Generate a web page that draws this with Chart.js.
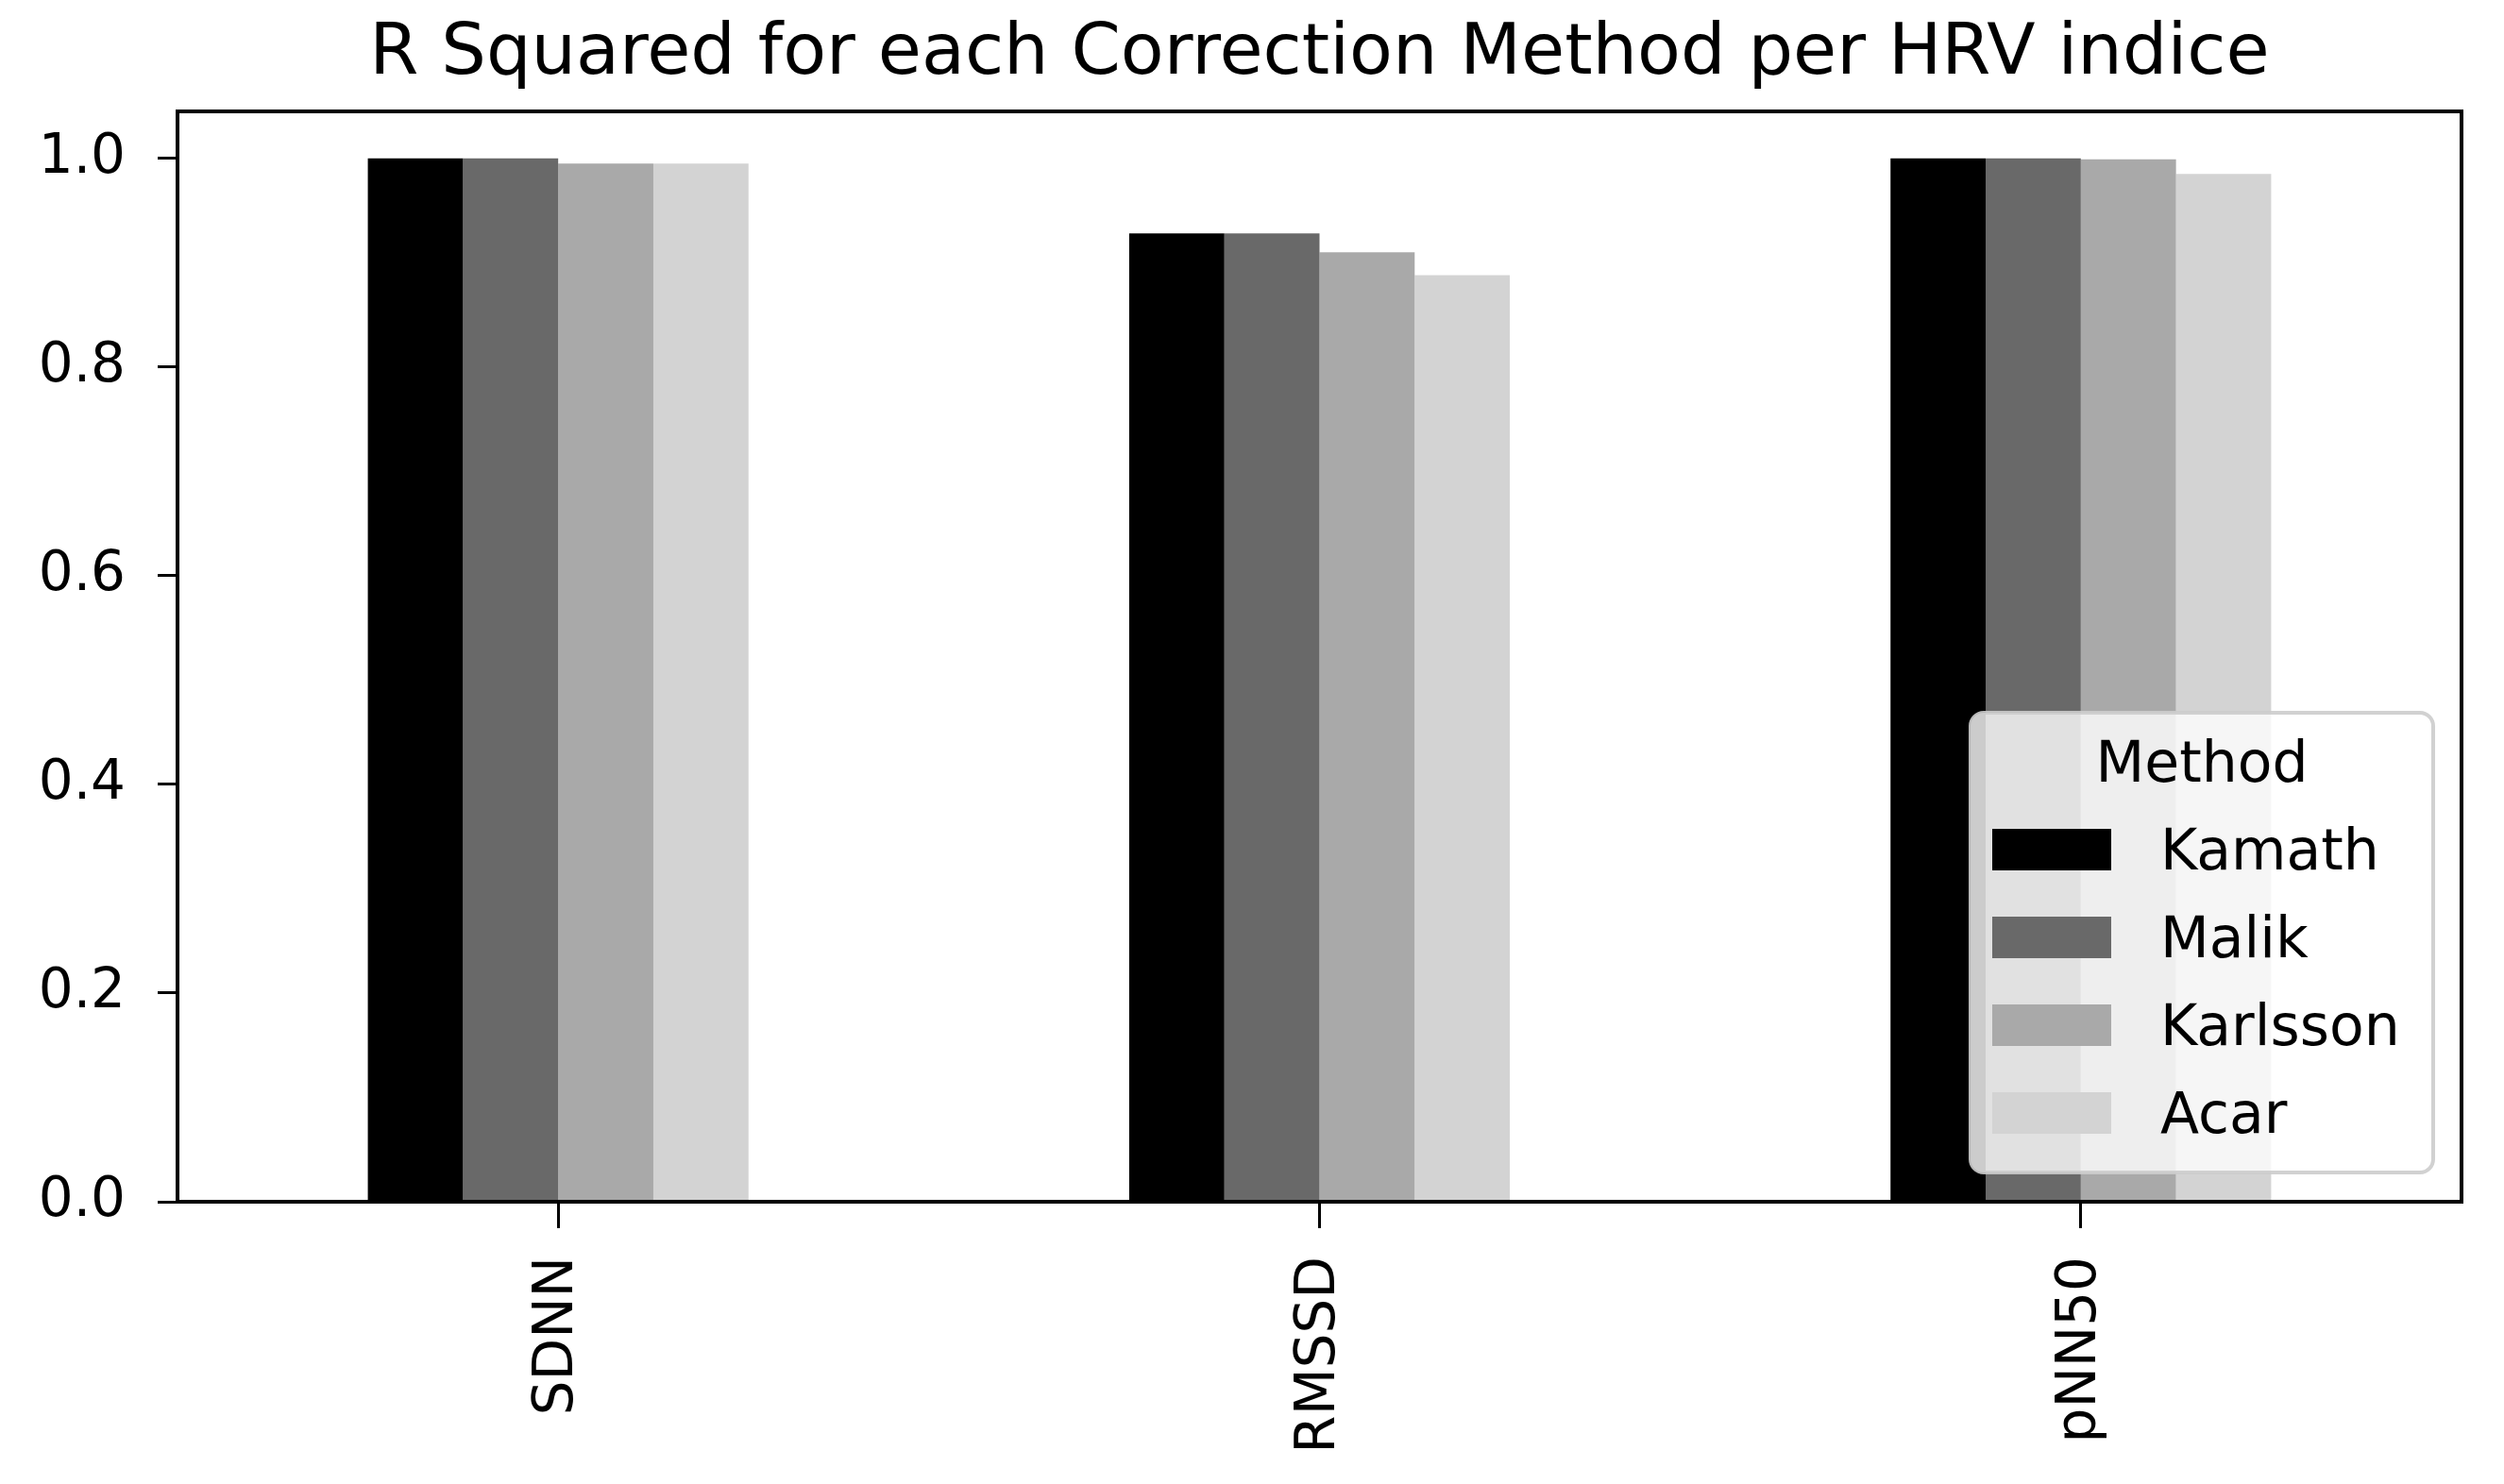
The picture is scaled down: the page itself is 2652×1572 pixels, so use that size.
<!DOCTYPE html>
<html>
<head>
<meta charset="utf-8">
<script src="https://cdn.jsdelivr.net/npm/chart.js@4/dist/chart.umd.min.js"></script>
<style>
  html, body { margin: 0; padding: 0; background: #fff; }
  canvas { display: block; }
</style>
</head>
<body>
<canvas id="chart" width="2652" height="1572"></canvas>
<script>
// data
const categories = ['SDNN', 'RMSSD', 'pNN50'];
const methods = ['Kamath', 'Malik', 'Karlsson', 'Acar'];
const kamath = [1.0, 0.928, 1.0];
const malik = [1.0, 0.928, 1.0];
const karlsson = [0.995, 0.910, 0.999];
const acar = [0.995, 0.888, 0.985];
const yTicks = [0.0, 0.2, 0.4, 0.6, 0.8, 1.0];
const colors = ['#000000', '#696969', '#a9a9a9', '#d3d3d3'];
const titleText = 'R Squared for each Correction Method per HRV indice';
const legendTitle = 'Method';

const FONT = 'DejaVu Sans';
Chart.defaults.font.family = FONT;
Chart.defaults.color = '#000';

const seriesValues = [kamath, malik, karlsson, acar];

const whiteBg = {
    id: 'whiteBg',
    beforeDraw(chart) {
        const ctx = chart.ctx;
        ctx.save();
        ctx.fillStyle = '#fff';
        ctx.fillRect(0, 0, chart.width, chart.height);
        ctx.restore();
    }
};

const frameAndTitle = {
    id: 'frameAndTitle',
    afterDatasetsDraw(chart) {
        const { ctx, chartArea: a } = chart;
        ctx.save();
        ctx.strokeStyle = '#000';
        ctx.lineWidth = 4;
        ctx.strokeRect(a.left, a.top, a.right - a.left, a.bottom - a.top);
        ctx.fillStyle = '#000';
        ctx.font = '75px "' + FONT + '"';
        ctx.textAlign = 'center';
        ctx.textBaseline = 'alphabetic';
        ctx.fillText(titleText, (a.left + a.right) / 2, 78);
        ctx.restore();
    }
};

// matplotlib style legend box in the lower right of the axes
const boxLegend = {
    id: 'boxLegend',
    afterDraw(chart) {
        const { ctx, chartArea: a } = chart;
        const w = 490, h = 487;
        const x = a.right - 30 - w;
        const y = a.bottom - 31 - h;
        ctx.save();
        ctx.beginPath();
        ctx.roundRect(x, y, w, h, 14);
        ctx.fillStyle = 'rgba(255,255,255,0.8)';
        ctx.fill();
        ctx.lineWidth = 4;
        ctx.strokeStyle = 'rgba(204,204,204,0.9)';
        ctx.stroke();

        ctx.fillStyle = '#000';
        ctx.font = '60px "' + FONT + '"';
        ctx.textAlign = 'center';
        ctx.textBaseline = 'alphabetic';
        ctx.fillText(legendTitle, x + w / 2, y + 73);

        ctx.textAlign = 'left';
        chart.data.datasets.forEach((ds, i) => {
            const cy = y + 145 + i * 93;
            ctx.fillStyle = ds.backgroundColor;
            ctx.fillRect(x + 23, cy - 22, 126, 44);
            ctx.fillStyle = '#000';
            ctx.fillText(ds.label, x + 201, cy + 21);
        });
        ctx.restore();
    }
};

new Chart(document.getElementById('chart'), {
    type: 'bar',
    data: {
        labels: categories,
        datasets: methods.map((m, i) => ({
            label: m,
            data: seriesValues[i],
            backgroundColor: colors[i],
            borderWidth: 0,
            categoryPercentage: 0.5,
            barPercentage: 1.0
        }))
    },
    options: {
        responsive: false,
        animation: false,
        devicePixelRatio: 1,
        layout: { padding: { top: 118, right: 45, bottom: 0, left: 0 } },
        plugins: {
            legend: { display: false },
            title: { display: false },
            tooltip: { enabled: false }
        },
        scales: {
            x: {
                offset: true,
                grid: {
                    offset: false,
                    drawOnChartArea: false,
                    color: '#000',
                    lineWidth: 3,
                    tickLength: 28
                },
                border: { display: false },
                ticks: {
                    minRotation: 90,
                    maxRotation: 90,
                    padding: 30,
                    color: '#000',
                    font: { size: 58 }
                },
                afterFit(scale) { scale.height = 299; }
            },
            y: {
                min: 0,
                max: 1.045,
                grid: {
                    drawOnChartArea: false,
                    color: '#000',
                    lineWidth: 3,
                    tickLength: 21
                },
                border: { display: false },
                ticks: {
                    padding: 34,
                    color: '#000',
                    font: { size: 58 },
                    callback: v => v.toFixed(1)
                },
                afterBuildTicks(scale) {
                    scale.ticks = yTicks.map(v => ({ value: v }));
                },
                afterFit(scale) { scale.width = 188; }
            }
        }
    },
    plugins: [whiteBg, frameAndTitle, boxLegend]
});
</script>
</body>
</html>
